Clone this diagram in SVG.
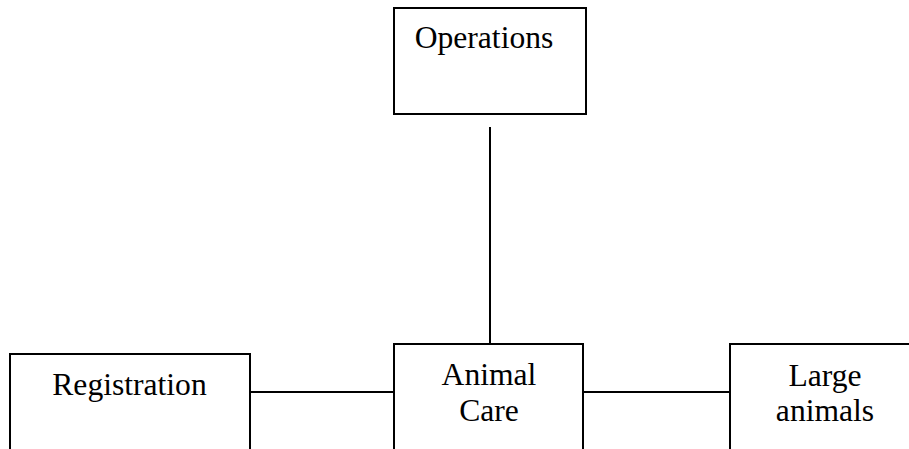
<svg xmlns="http://www.w3.org/2000/svg" width="909" height="449" viewBox="0 0 909 449">
<style>
.box{fill:#fff;stroke:#000;stroke-width:2}
.lbl{font-family:"Liberation Serif","Times New Roman",serif;font-size:31.6px;fill:#000;text-anchor:middle}
.con{stroke:#000;stroke-width:2;fill:none}
</style>
<rect width="909" height="449" fill="#fff"/>
<g id="connectors">
<line class="con" x1="490" y1="127" x2="490" y2="344"/>
<line class="con" x1="250" y1="392" x2="394" y2="392"/>
<line class="con" x1="583" y1="392" x2="730" y2="392"/>
</g>
<g id="operations">
<rect class="box" x="394" y="8" width="192" height="106"/>
<text class="lbl" x="484" y="48">Operations</text>
</g>
<g id="registration">
<rect class="box" x="10" y="354" width="240" height="110"/>
<text class="lbl" x="129.5" y="395">Registration</text>
</g>
<g id="animal-care">
<rect class="box" x="394" y="344" width="189" height="120"/>
<text class="lbl" x="489" y="385">Animal</text>
<text class="lbl" x="489" y="421">Care</text>
</g>
<g id="large-animals">
<rect class="box" x="730" y="344" width="200" height="120"/>
<text class="lbl" x="825" y="386">Large</text>
<text class="lbl" x="825" y="421">animals</text>
</g>
</svg>
